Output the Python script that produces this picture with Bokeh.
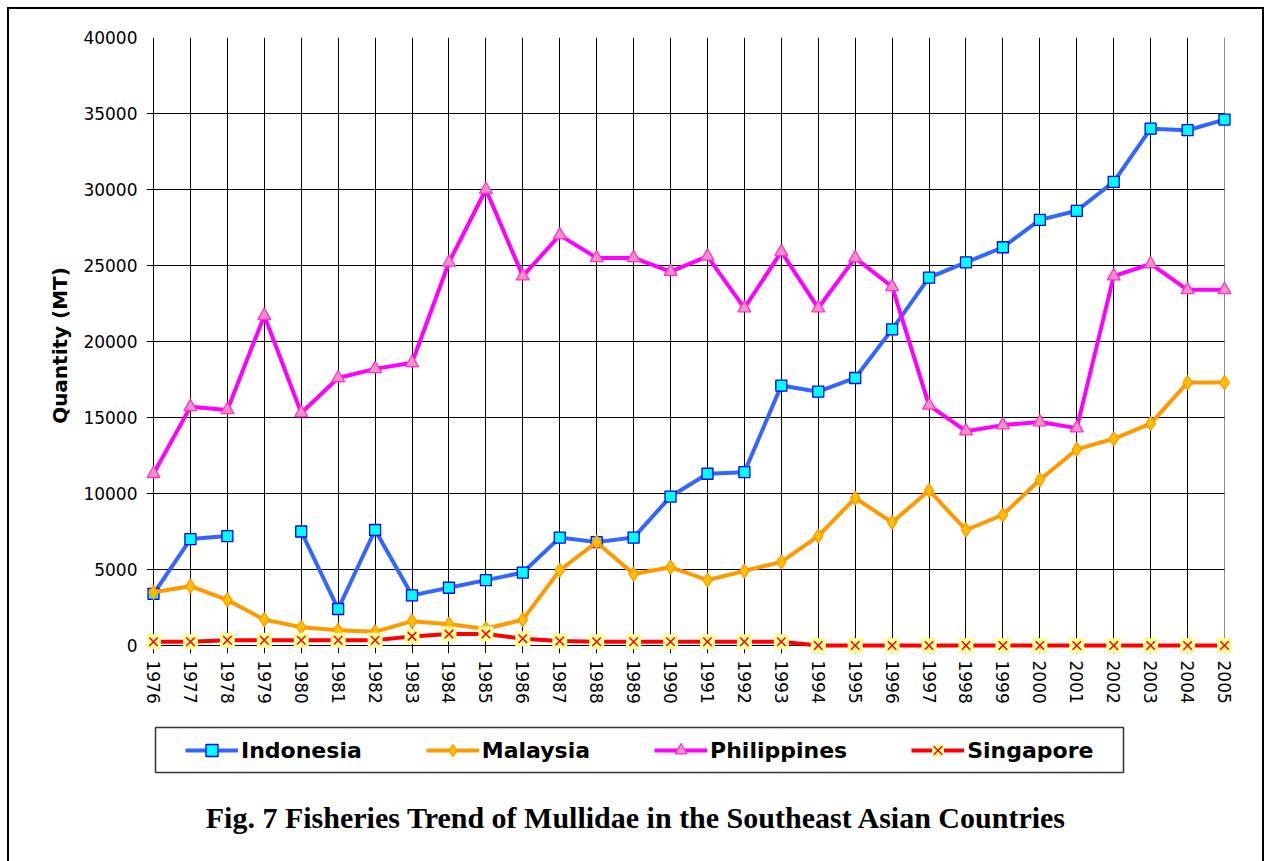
from bokeh.plotting import figure
from bokeh.layouts import column
from bokeh.models import (Range1d, FixedTicker, Grid, Legend, LegendItem, Label,
                          BoxAnnotation, NumeralTickFormatter)
from bokeh.embed import file_html
from bokeh.resources import INLINE

# ---------------- data ----------------
years = [1976, 1977, 1978, 1979, 1980, 1981, 1982, 1983, 1984, 1985,
         1986, 1987, 1988, 1989, 1990, 1991, 1992, 1993, 1994, 1995,
         1996, 1997, 1998, 1999, 2000, 2001, 2002, 2003, 2004, 2005]
indonesia = [3400, 7000, 7200, None, 7500, 2400, 7600, 3300, 3800, 4300,
             4800, 7100, 6800, 7100, 9800, 11300, 11400, 17100, 16700, 17600,
             20800, 24200, 25200, 26200, 28000, 28600, 30500, 34000, 33900, 34600]
malaysia = [3500, 3900, 3000, 1700, 1200, 1000, 900, 1600, 1400, 1100,
            1700, 4950, 6800, 4700, 5150, 4300, 4900, 5500, 7200, 9700,
            8100, 10200, 7600, 8600, 10900, 12900, 13600, 14600, 17300, 17300]
philippines = [11300, 15700, 15500, 21700, 15300, 17600, 18200, 18600, 25200, 30000,
               24300, 27000, 25500, 25500, 24600, 25600, 22200, 25900, 22200, 25500,
               23600, 15800, 14100, 14500, 14700, 14300, 24300, 25100, 23400, 23400]
singapore = [250, 250, 350, 350, 350, 350, 350, 600, 750, 750,
             450, 300, 250, 250, 250, 250, 250, 250, 0, 0,
             0, 0, 0, 0, 0, 0, 0, 0, 0, 0]
y_ticks = [0, 5000, 10000, 15000, 20000, 25000, 30000, 35000, 40000]
series_names = ["Indonesia", "Malaysia", "Philippines", "Singapore"]
y_title = "Quantity (MT)"
caption = "Fig. 7 Fisheries Trend of Mullidae in the Southeast Asian Countries"


def clean(vals):
    return [float("nan") if v is None else v for v in vals]


# ---------------- styles ----------------
STYLE = dict(
    ind=dict(line="#3366FF", marker="square", size=11, fill="#00FFFF", edge="#0000FF"),
    mal=dict(line="#FF9900", marker="diamond", size=14, fill="#FFC000", edge="#FF9900"),
    phi=dict(line="#FF00FF", marker="triangle", size=13, fill="#F291C8", edge="#FF33CC"),
)


def draw_series(fig, xs, data):
    """Draw the four series on fig; returns legend renderer groups."""
    groups = []
    for key, vals in zip(["ind", "mal", "phi"], data[:3]):
        s = STYLE[key]
        ln = fig.line(xs, vals, line_color=s["line"], line_width=4)
        mk = fig.scatter(xs, vals, marker=s["marker"], size=s["size"],
                         fill_color=s["fill"], line_color=s["edge"], line_width=1.3)
        groups.append([ln, mk])
    ln = fig.line(xs, data[3], line_color="#FF0000", line_width=4)
    sq = fig.scatter(xs, data[3], marker="square", size=15,
                     fill_color="#FFFF99", line_color=None)
    xx = fig.scatter(xs, data[3], marker="x", size=12,
                     line_color="#FF0000", line_width=1.5)
    groups.append([ln, sq, xx])
    return groups


series = [clean(indonesia), malaysia, philippines, singapore]

# ---------------- main chart ----------------
W = 1272
PLOT_W, PLOT_H = 1071, 608       # inner plot area (1976..2005, 0..40000)
PAD_X, PAD_Y = 7, 8              # frame padding so edge markers are not clipped
x0, x1 = years[0], years[-1]
y0, y1 = y_ticks[0], y_ticks[-1]
dx = PAD_X * (x1 - x0) / PLOT_W
dy = PAD_Y * (y1 - y0) / PLOT_H

FRAME_L, FRAME_T = 146, 37
H1 = 712
p = figure(frame_width=PLOT_W + 2 * PAD_X, frame_height=PLOT_H + PAD_Y,
           x_range=Range1d(x0 - dx, x1 + dx), y_range=Range1d(y0 - dy, y1),
           output_backend="svg", toolbar_location=None,
           min_border_left=FRAME_L, min_border_top=FRAME_T,
           min_border_right=W - FRAME_L - PLOT_W - 2 * PAD_X,
           min_border_bottom=H1 - FRAME_T - PLOT_H - PAD_Y)
p.outline_line_color = None
p.background_fill_color = "white"
p.border_fill_alpha = 0

p.xgrid.visible = False
p.ygrid.visible = False
p.add_layout(Grid(dimension=0, ticker=FixedTicker(ticks=years[:-1]),
                  grid_line_color="black", grid_line_width=1,
                  cross_bounds=(y0 - dy, y1)))
p.add_layout(Grid(dimension=0, ticker=FixedTicker(ticks=[years[-1]]),
                  grid_line_color="#8c8c8c", grid_line_width=1,
                  cross_bounds=(y0 - dy, y1)))
p.add_layout(Grid(dimension=1, ticker=FixedTicker(ticks=y_ticks[:-1]),
                  grid_line_color="black", grid_line_width=1,
                  cross_bounds=(x0 - dx, x1)))
p.add_layout(Grid(dimension=1, ticker=FixedTicker(ticks=[y_ticks[-1]]),
                  grid_line_color="#8c8c8c", grid_line_width=1,
                  cross_bounds=(x0 - dx, x1)))

for ax in (p.xaxis[0], p.yaxis[0]):
    ax.axis_line_color = None
    ax.major_tick_line_color = None
    ax.minor_tick_line_color = None
    ax.major_tick_out = 0
    ax.major_tick_in = 0
    ax.major_label_text_font = "DejaVu Sans"
    ax.major_label_text_font_size = "17px"
    ax.major_label_text_color = "black"

p.xaxis.ticker = FixedTicker(ticks=years)
p.xaxis.major_label_orientation = "vertical"
p.xaxis.major_label_standoff = 7
p.yaxis.ticker = FixedTicker(ticks=y_ticks)
p.yaxis.formatter = NumeralTickFormatter(format="0")
p.yaxis.major_label_standoff = 9
p.yaxis.axis_label = y_title
p.yaxis.axis_label_text_font = "DejaVu Sans"
p.yaxis.axis_label_text_font_style = "bold"
p.yaxis.axis_label_text_font_size = "20px"
p.yaxis.axis_label_text_color = "black"
p.yaxis.axis_label_standoff = 8

draw_series(p, years, series)

# ---------------- legend + caption panel ----------------
H2 = 861 - H1
q = figure(frame_width=W, frame_height=H2, x_range=Range1d(0, 1), y_range=Range1d(0, 1),
           x_axis_type=None, y_axis_type=None, min_border=0,
           output_backend="svg", toolbar_location=None)
q.outline_line_color = None
q.background_fill_alpha = 0
q.border_fill_alpha = 0
q.grid.visible = False

# same series, drawn outside this panel's visible range: only their legend glyphs show
groups = draw_series(q, years, series)
legend = Legend(items=[LegendItem(label=n, renderers=g) for n, g in zip(series_names, groups)],
                orientation="horizontal", location=(185, 96), padding=0, margin=0,
                spacing=64, glyph_width=53, glyph_height=30, label_height=30,
                label_standoff=3, label_text_font="DejaVu Sans",
                label_text_font_style="bold", label_text_font_size="22px",
                label_text_color="black", border_line_color=None,
                background_fill_alpha=0)
q.add_layout(legend)

q.add_layout(BoxAnnotation(left=9, right=977, top=134, bottom=89,
                           left_units="screen", right_units="screen",
                           top_units="screen", bottom_units="screen",
                           fill_alpha=0, line_color="#333333", line_alpha=1,
                           line_width=1.5))

q.add_layout(Label(x=490, y=44, x_units="screen", y_units="screen",
                   text=caption, text_font="Liberation Serif",
                   text_font_style="bold", text_font_size="30px",
                   text_align="center", text_baseline="alphabetic",
                   text_color="black"))

page = column(p, q, spacing=0, styles={
    "background": "white",
    "box-shadow": ("inset 7px 7px 0 0 white, inset -8px 0 0 0 white, "
                   "inset 9px 9px 0 0 black, inset -10px 0 0 0 black"),
})

open("out.html", "w").write(file_html(page, INLINE))
